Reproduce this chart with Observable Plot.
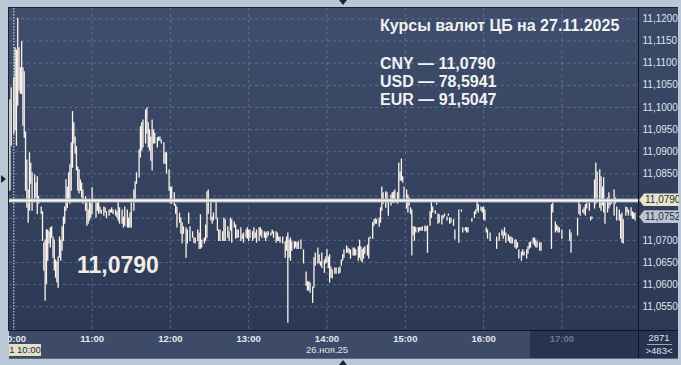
<!DOCTYPE html>
<html><head><meta charset="utf-8">
<script src="https://cdn.jsdelivr.net/npm/d3@7"></script>
<script src="https://cdn.jsdelivr.net/npm/@observablehq/plot@0.6"></script>
<style>
html,body{margin:0;padding:0;background:#bac7d7;}
#wrap{position:relative;width:681px;height:365px;overflow:hidden;background:#bac7d7;font-family:"Liberation Sans",Arial,sans-serif;}
.abs{position:absolute;}
#plotbg{left:9px;top:8px;width:629px;height:322px;background:linear-gradient(#3f4e6c,#2c3955);}
#rightbg{left:638px;top:8px;width:40px;height:322px;background:linear-gradient(#3b4a67,#2d3a56);}
#botbg{left:9px;top:330px;width:669px;height:28px;background:#3d4b68;}
#botdark{left:530px;top:330px;width:148px;height:28px;background:#27344f;}
#chart{left:0;top:0;z-index:2;}
.fr{background:#bac7d7;z-index:5;}
.txt{color:#f2f2f2;font-weight:bold;z-index:4;white-space:nowrap;}
.mk{z-index:6;height:13px;font-size:10px;line-height:13px;color:#1f2b45;padding-left:6px;box-sizing:border-box;clip-path:polygon(0 50%,5px 0,100% 0,100% 100%,5px 100%);}
</style></head>
<body>
<div id="wrap">
  <div id="plotbg" class="abs"></div>
  <div id="rightbg" class="abs"></div>
  <div id="botbg" class="abs"></div>
  <div id="botdark" class="abs"></div>
  <div id="chart" class="abs"></div>
</div>
<script>
// ---- data: minute bars (minutes after 10:00, 26.11.2025), high and low ----
const mins = [-3,-2,0,1,2,3,4,5,6,7,8,9,10,11,12,13,14,16,17,18,19,21,22,23,24,25,26,27,28,29,30,31,32,33,34,35,36,37,38,39,40,41,42,43,44,45,46,47,48,49,50,51,52,53,55,56,57,58,59,60,63,64,65,66,67,69,70,71,73,74,75,76,78,79,80,81,83,84,85,87,88,89,90,92,93,94,96,97,98,99,101,102,103,104,105,106,107,108,110,111,112,113,115,116,117,119,120,121,123,124,125,127,128,129,130,132,133,134,135,137,138,139,141,142,143,144,146,147,148,149,151,152,153,155,156,157,158,160,161,162,164,165,166,167,169,170,171,172,174,175,176,178,179,180,181,183,184,185,186,188,189,190,192,193,194,195,197,198,199,201,202,203,204,206,208,209,210,211,212,213,215,216,217,218,220,222,224,225,226,227,229,230,231,233,234,235,236,238,239,240,241,242,243,244,246,247,249,250,251,252,253,255,256,257,258,260,261,262,264,265,266,267,268,269,271,272,273,275,276,277,278,280,281,282,283,285,286,287,289,290,291,292,294,295,296,297,298,299,301,302,303,304,305,306,307,308,310,311,312,313,315,316,317,319,320,321,323,324,325,326,328,329,330,332,333,334,335,337,338,341,343,344,346,347,348,351,353,354,355,356,358,359,360,361,362,363,365,370,372,374,375,376,377,379,380,381,382,384,385,386,387,389,390,391,393,394,395,396,398,399,400,401,403,404,412,413,415,416,417,418,420,426,427,432,433,434,436,437,438,439,441,442,443,445,446,447,449,450,451,452,453,455,456,457,458,460,461,462,464,465,466,467,469,470,471,473,474,475,476];
const highs = [11.1016,11.1043,11.1065,11.1133,11.1128,11.1200,11.1133,11.1088,11.1147,11.1088,11.1079,11.0943,11.0880,11.0812,11.0896,11.0873,11.0851,11.0846,11.0828,11.0842,11.0797,11.0774,11.0763,11.0693,11.0699,11.0722,11.0722,11.0718,11.0727,11.0729,11.0706,11.0699,11.0654,11.0650,11.0661,11.0706,11.0699,11.0729,11.0751,11.0774,11.0835,11.0819,11.0851,11.0869,11.0919,11.0989,11.0964,11.0932,11.0910,11.0864,11.0858,11.0835,11.0828,11.0812,11.0797,11.0783,11.0767,11.0790,11.0783,11.0817,11.0790,11.0783,11.0785,11.0774,11.0767,11.0774,11.0772,11.0763,11.0767,11.0767,11.0772,11.0767,11.0767,11.0763,11.0785,11.0772,11.0767,11.0751,11.0774,11.0767,11.0749,11.0760,11.0783,11.0812,11.0830,11.0851,11.0903,11.0955,11.0964,11.0970,11.0993,11.0998,11.0964,11.0948,11.0932,11.0970,11.0948,11.0941,11.0930,11.0932,11.0932,11.0925,11.0919,11.0896,11.0896,11.0858,11.0819,11.0819,11.0806,11.0779,11.0774,11.0760,11.0749,11.0738,11.0729,11.0727,11.0722,11.0760,11.0729,11.0718,11.0704,11.0704,11.0722,11.0715,11.0756,11.0699,11.0704,11.0733,11.0808,11.0812,11.0783,11.0751,11.0760,11.0790,11.0749,11.0722,11.0722,11.0718,11.0749,11.0745,11.0729,11.0718,11.0749,11.0745,11.0740,11.0733,11.0722,11.0722,11.0727,11.0711,11.0715,11.0722,11.0727,11.0722,11.0722,11.0718,11.0727,11.0715,11.0722,11.0727,11.0727,11.0722,11.0718,11.0715,11.0718,11.0718,11.0715,11.0722,11.0718,11.0718,11.0715,11.0706,11.0706,11.0706,11.0695,11.0706,11.0715,11.0699,11.0704,11.0695,11.0695,11.0695,11.0693,11.0695,11.0699,11.0677,11.0627,11.0605,11.0605,11.0602,11.0593,11.0659,11.0670,11.0681,11.0666,11.0650,11.0670,11.0654,11.0661,11.0677,11.0661,11.0666,11.0638,11.0632,11.0636,11.0636,11.0636,11.0638,11.0654,11.0666,11.0677,11.0686,11.0681,11.0679,11.0677,11.0681,11.0681,11.0677,11.0684,11.0699,11.0684,11.0677,11.0681,11.0684,11.0688,11.0704,11.0706,11.0738,11.0745,11.0747,11.0745,11.0749,11.0772,11.0819,11.0806,11.0808,11.0806,11.0790,11.0801,11.0806,11.0808,11.0812,11.0806,11.0873,11.0853,11.0882,11.0842,11.0819,11.0812,11.0801,11.0794,11.0772,11.0767,11.0729,11.0729,11.0727,11.0727,11.0727,11.0727,11.0729,11.0731,11.0729,11.0731,11.0763,11.0785,11.0774,11.0765,11.0783,11.0758,11.0756,11.0754,11.0754,11.0758,11.0751,11.0758,11.0749,11.0749,11.0745,11.0722,11.0767,11.0767,11.0727,11.0727,11.0727,11.0727,11.0747,11.0763,11.0767,11.0788,11.0779,11.0774,11.0772,11.0774,11.0767,11.0727,11.0722,11.0715,11.0706,11.0715,11.0722,11.0718,11.0727,11.0715,11.0711,11.0706,11.0706,11.0704,11.0699,11.0699,11.0693,11.0677,11.0672,11.0677,11.0672,11.0677,11.0684,11.0693,11.0695,11.0704,11.0704,11.0699,11.0695,11.0693,11.0693,11.0779,11.0783,11.0740,11.0733,11.0729,11.0727,11.0722,11.0722,11.0715,11.0749,11.0790,11.0779,11.0767,11.0772,11.0779,11.0783,11.0783,11.0751,11.0751,11.0835,11.0873,11.0853,11.0858,11.0842,11.0819,11.0840,11.0785,11.0794,11.0806,11.0790,11.0790,11.0812,11.0794,11.0774,11.0767,11.0756,11.0760,11.0745,11.0774,11.0772,11.0767,11.0772,11.0763,11.0760,11.0760];
const lows = [11.0812,11.0914,11.0941,11.0948,11.0914,11.1004,11.1038,11.1031,11.1031,11.0959,11.0932,11.0812,11.0774,11.0740,11.0767,11.0828,11.0767,11.0790,11.0797,11.0760,11.0783,11.0760,11.0699,11.0632,11.0564,11.0602,11.0654,11.0693,11.0684,11.0706,11.0661,11.0632,11.0616,11.0605,11.0593,11.0661,11.0654,11.0677,11.0699,11.0738,11.0767,11.0774,11.0790,11.0783,11.0812,11.0864,11.0919,11.0896,11.0858,11.0812,11.0806,11.0812,11.0797,11.0783,11.0767,11.0733,11.0738,11.0745,11.0751,11.0760,11.0751,11.0767,11.0760,11.0763,11.0760,11.0756,11.0763,11.0751,11.0756,11.0763,11.0763,11.0760,11.0756,11.0751,11.0745,11.0738,11.0738,11.0729,11.0733,11.0729,11.0729,11.0729,11.0729,11.0767,11.0790,11.0828,11.0842,11.0887,11.0903,11.0910,11.0919,11.0941,11.0910,11.0903,11.0880,11.0858,11.0919,11.0919,11.0910,11.0925,11.0925,11.0919,11.0873,11.0873,11.0851,11.0812,11.0783,11.0783,11.0779,11.0760,11.0729,11.0740,11.0715,11.0693,11.0715,11.0661,11.0693,11.0738,11.0699,11.0706,11.0695,11.0693,11.0699,11.0681,11.0681,11.0684,11.0693,11.0699,11.0706,11.0760,11.0745,11.0738,11.0745,11.0749,11.0722,11.0699,11.0699,11.0699,11.0699,11.0699,11.0706,11.0699,11.0722,11.0695,11.0729,11.0704,11.0706,11.0706,11.0699,11.0704,11.0695,11.0706,11.0704,11.0699,11.0706,11.0699,11.0704,11.0706,11.0695,11.0699,11.0711,11.0706,11.0706,11.0699,11.0706,11.0711,11.0711,11.0715,11.0706,11.0695,11.0699,11.0699,11.0695,11.0693,11.0661,11.0677,11.0514,11.0661,11.0654,11.0677,11.0681,11.0684,11.0681,11.0681,11.0681,11.0648,11.0598,11.0587,11.0587,11.0582,11.0559,11.0593,11.0643,11.0648,11.0648,11.0643,11.0638,11.0627,11.0648,11.0650,11.0638,11.0605,11.0616,11.0614,11.0625,11.0625,11.0625,11.0627,11.0643,11.0654,11.0661,11.0672,11.0672,11.0670,11.0659,11.0666,11.0666,11.0666,11.0654,11.0661,11.0654,11.0650,11.0659,11.0670,11.0666,11.0659,11.0704,11.0704,11.0733,11.0738,11.0738,11.0731,11.0740,11.0767,11.0783,11.0774,11.0785,11.0756,11.0779,11.0785,11.0785,11.0785,11.0783,11.0790,11.0835,11.0835,11.0830,11.0794,11.0772,11.0763,11.0779,11.0760,11.0666,11.0711,11.0699,11.0718,11.0718,11.0722,11.0722,11.0722,11.0720,11.0722,11.0672,11.0733,11.0751,11.0763,11.0760,11.0781,11.0738,11.0740,11.0736,11.0749,11.0754,11.0745,11.0756,11.0738,11.0740,11.0733,11.0702,11.0695,11.0765,11.0718,11.0722,11.0718,11.0718,11.0742,11.0751,11.0760,11.0767,11.0763,11.0767,11.0763,11.0747,11.0745,11.0718,11.0704,11.0699,11.0681,11.0699,11.0711,11.0704,11.0711,11.0695,11.0699,11.0695,11.0693,11.0693,11.0684,11.0681,11.0684,11.0659,11.0654,11.0666,11.0666,11.0659,11.0670,11.0681,11.0684,11.0693,11.0688,11.0684,11.0684,11.0677,11.0677,11.0681,11.0763,11.0718,11.0722,11.0718,11.0718,11.0704,11.0699,11.0672,11.0711,11.0760,11.0756,11.0763,11.0760,11.0756,11.0772,11.0767,11.0745,11.0749,11.0772,11.0783,11.0794,11.0774,11.0767,11.0779,11.0763,11.0738,11.0763,11.0772,11.0779,11.0783,11.0756,11.0783,11.0745,11.0745,11.0704,11.0695,11.0693,11.0756,11.0763,11.0756,11.0756,11.0749,11.0749,11.0745];

const yTicks = [11.055,11.06,11.065,11.07,11.075,11.08,11.085,11.09,11.095,11.1,11.105,11.11,11.115,11.12];
const yLabelTicks = [11.055,11.06,11.065,11.07,11.085,11.09,11.095,11.1,11.105,11.11,11.115,11.12];
const hourTicks = [1,2,3,4,5,6,7]; // hours after 10:00 with grid lines
const refRate = 11.0790;   // CNY rate of the CB
const lastPrice = 11.0752; // last trade
const title = "Курсы валют ЦБ на 27.11.2025";
const rates = [["CNY","11,0790"],["USD","78,5941"],["EUR","91,5047"]];
const dateLabel = "26.ноя.25";
const cursorLabel = "1 10:00";

const base = Date.UTC(2025,10,26,10,0);
const t = m => new Date(base + m*60000);
const bars = mins.map((m,i)=>({t:t(m), hi:highs[i], lo:lows[i]}));
const fmt = v => v.toFixed(4).replace(".", ",");
const hourDates = hourTicks.map(h=>t(h*60));

const chart = Plot.plot({
  width: 681, height: 365,
  marginLeft: 9, marginRight: 43, marginTop: 8, marginBottom: 35,
  style: {background: "transparent", fontFamily: "'Liberation Sans', Arial, sans-serif", overflow: "visible"},
  x: {type: "utc", domain: [t(-3.3), t(478.7)]},
  y: {domain: [11.04964, 11.12233]},
  marks: [
    Plot.ruleY(yTicks, {stroke: "#7e8ba5", strokeOpacity: 0.55, strokeDasharray: "3,3"}),
    Plot.ruleX(hourDates, {stroke: "#7e8ba5", strokeOpacity: 0.55, strokeDasharray: "3,3"}),
    Plot.ruleX([t(0)], {stroke: "#e6ebf2", strokeDasharray: "1.5,1.5", strokeWidth: 1}),
    Plot.ruleX(bars, {x: "t", y1: "lo", y2: "hi", stroke: "#fcf3ea", strokeWidth: 1.3, strokeLinecap: "square"}),
    Plot.ruleY([refRate], {stroke: "#a7afbd", strokeWidth: 4}),
    Plot.ruleY([refRate], {stroke: "#faf6f0", strokeWidth: 2}),
    Plot.axisY(yLabelTicks, {anchor: "right", tickSize: 0, tickPadding: 4, tickFormat: fmt, fill: "#dfe5ee", fontSize: 10, label: null}),
    Plot.axisX(hourDates.concat([t(0)]).filter(d=>+d!==+t(420)), {anchor: "bottom", tickSize: 0, tickPadding: 5, tickFormat: d3.utcFormat("%H:%M"), fill: "#e3e8f0", fontSize: 9.5, fontWeight: "bold", label: null}),
    Plot.axisX([t(420)], {anchor: "bottom", tickSize: 0, tickPadding: 5, tickFormat: d3.utcFormat("%H:%M"), fill: "#6e7b96", fontSize: 9.5, fontWeight: "bold", label: null})
  ]
});
const wrap = document.getElementById("wrap");
document.getElementById("chart").appendChild(chart);
const ys = chart.scale("y");
const xs = chart.scale("x");

function add(html, css, cls){const d=document.createElement("div");d.className="abs "+(cls||"");d.innerHTML=html;Object.assign(d.style,css);wrap.appendChild(d);return d;}

// plot borders
add("",{left:"8px",top:"7px",width:"1px",height:"324px",background:"#1a2236",zIndex:4});
add("",{left:"8px",top:"7px",width:"670px",height:"1px",background:"#1a2236",zIndex:4});
add("",{left:"9px",top:"330px",width:"669px",height:"1px",background:"#0f1522",zIndex:4});
add("",{left:(xs.range[1])+"px",top:"8px",width:"1px",height:"350px",background:"#0f1522",zIndex:4});
add("",{left:"9px",top:"358px",width:"669px",height:"1px",background:"#5d6a82",zIndex:4});

// outer frame (covers overflowing labels)
add("",{left:"0",top:"0",width:"8px",height:"365px"},"fr");
add("",{left:"0",top:"0",width:"681px",height:"7px"},"fr");
add("",{left:"678px",top:"0",width:"3px",height:"365px"},"fr");
add("",{left:"0",top:"359px",width:"681px",height:"6px"},"fr");
// small pointers
add("",{left:"1px",top:"175px",width:"0",height:"0",borderTop:"4px solid transparent",borderBottom:"4px solid transparent",borderLeft:"5px solid #1b2438",zIndex:6});
add("",{left:"339px",top:"0px",width:"0",height:"0",borderLeft:"4px solid transparent",borderRight:"4px solid transparent",borderTop:"5px solid #1b2438",zIndex:6});
add("",{left:"339px",top:"360px",width:"0",height:"0",borderLeft:"4px solid transparent",borderRight:"4px solid transparent",borderBottom:"5px solid #1b2438",zIndex:6});

// texts
add(title,{left:"380px",top:"17px",fontSize:"16px"},"txt");
rates.forEach((r,i)=>add(r[0]+" — "+r[1],{left:"380px",top:(55+i*18)+"px",fontSize:"16px"},"txt"));
add(fmt(refRate),{left:"77px",top:"252px",fontSize:"23px",color:"#f1ece6"},"txt");

// price markers on right axis
const x1 = xs.range[1];
add(fmt(refRate),{left:(x1+1)+"px",top:(ys.apply(refRate)-6.5)+"px",width:"40px",background:"#e9e5c9"},"mk");
add(fmt(lastPrice),{left:(x1+1)+"px",top:(ys.apply(lastPrice)-6.5)+"px",width:"40px",background:"#bcc3cf"},"mk");

// bottom labels
add(dateLabel,{left:"306px",top:"344px",fontSize:"9.5px",color:"#dfe5ee",zIndex:4},"");
add(cursorLabel,{left:"9px",top:"344px",width:"32px",height:"12px",background:"#e4e0c8",color:"#1f2b45",fontSize:"9.5px",lineHeight:"12px",textAlign:"center",whiteSpace:"nowrap",zIndex:4});
add("2871",{left:(x1+1)+"px",top:"332px",width:"40px",textAlign:"center",fontSize:"9.5px",color:"#dfe5ee",zIndex:4});
add("",{left:(x1+9)+"px",top:"344px",width:"25px",height:"1px",background:"#9aa5b8",zIndex:4});
add("&gt;483&lt;",{left:(x1+1)+"px",top:"345px",width:"40px",textAlign:"center",fontSize:"9.5px",color:"#dfe5ee",zIndex:4});
</script>
</body></html>
